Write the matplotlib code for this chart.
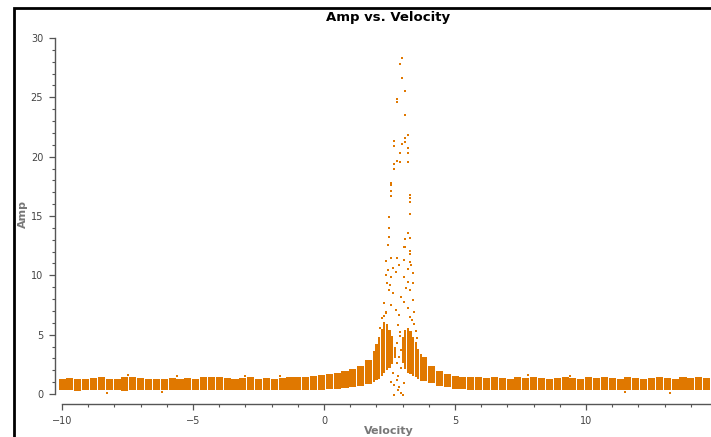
import matplotlib
matplotlib.use("Agg")
import matplotlib.pyplot as plt
from matplotlib.patches import Rectangle
from matplotlib.ticker import MultipleLocator

# ---- data ----
# channel-block velocities (km/s), outside the line core
velocity = [-10.0, -9.7, -9.4, -9.1, -8.8, -8.5, -8.2, -7.9, -7.6, -7.3,
            -7.0, -6.7, -6.4, -6.1, -5.8, -5.5, -5.2, -4.9, -4.6, -4.3,
            -4.0, -3.7, -3.4, -3.1, -2.8, -2.5, -2.2, -1.9, -1.6, -1.3,
            -1.0, -0.7, -0.4, -0.1, 0.2, 0.5, 0.8, 1.1, 1.4, 1.7,
            3.8, 4.1, 4.4, 4.7,
            5.0, 5.3, 5.6, 5.9, 6.2, 6.5, 6.8, 7.1, 7.4, 7.7,
            8.0, 8.3, 8.6, 8.9, 9.2, 9.5, 9.8, 10.1, 10.4, 10.7,
            11.0, 11.3, 11.6, 11.9, 12.2, 12.5, 12.8, 13.1, 13.4, 13.7,
            14.0, 14.3, 14.6]
amp_high = [1.30, 1.35, 1.25, 1.30, 1.35, 1.40, 1.30, 1.25, 1.40, 1.45,
            1.35, 1.30, 1.30, 1.25, 1.35, 1.30, 1.35, 1.30, 1.40, 1.45,
            1.40, 1.35, 1.30, 1.35, 1.40, 1.30, 1.35, 1.30, 1.35, 1.40,
            1.45, 1.45, 1.50, 1.60, 1.65, 1.75, 1.90, 2.10, 2.40, 2.90,
            3.10, 2.40, 1.90, 1.65,
            1.55, 1.45, 1.40, 1.40, 1.35, 1.40, 1.35, 1.30, 1.40, 1.35,
            1.45, 1.35, 1.30, 1.35, 1.40, 1.35, 1.30, 1.40, 1.35, 1.40,
            1.35, 1.30, 1.40, 1.35, 1.30, 1.35, 1.40, 1.35, 1.30, 1.40,
            1.35, 1.40, 1.35]
amp_low = [0.35, 0.30, 0.25, 0.35, 0.30, 0.30, 0.35, 0.30, 0.25, 0.30,
           0.30, 0.35, 0.30, 0.30, 0.30, 0.35, 0.30, 0.30, 0.30, 0.35,
           0.30, 0.35, 0.30, 0.30, 0.30, 0.35, 0.30, 0.35, 0.30, 0.35,
           0.30, 0.35, 0.35, 0.35, 0.40, 0.45, 0.50, 0.55, 0.65, 0.85,
           1.10, 0.90, 0.70, 0.55,
           0.45, 0.40, 0.35, 0.35, 0.30, 0.30, 0.35, 0.30, 0.30, 0.35,
           0.30, 0.30, 0.35, 0.30, 0.30, 0.35, 0.30, 0.30, 0.35, 0.30,
           0.30, 0.35, 0.30, 0.30, 0.35, 0.30, 0.30, 0.35, 0.30, 0.30,
           0.35, 0.30, 0.30]

# line core, finer channels
core_vel = [1.9, 2.0, 2.1, 2.2, 2.3, 2.4, 2.5, 2.6, 2.7,
            3.0, 3.1, 3.2, 3.3, 3.4, 3.5, 3.6, 3.7]
core_high = [3.6, 4.2, 4.8, 5.5, 6.1, 5.9, 5.4, 4.9, 4.0,
             4.8, 5.4, 5.6, 5.3, 4.8, 4.4, 3.8, 3.4]
core_low = [1.0, 1.15, 1.3, 1.5, 1.8, 2.0, 2.2, 2.5, 3.0,
            2.6, 2.1, 1.8, 1.7, 1.5, 1.4, 1.3, 1.2]

# isolated points (line peak and a few outliers)
point_vel = [2.98, 2.89, 2.98, 3.10, 2.79, 2.79, 3.10, 3.21, 3.10, 2.66,
             3.10, 2.98, 2.66, 3.21, 2.89, 3.21, 2.79, 2.89, 3.21, 2.66,
             2.66, 2.57, 2.57, 2.57, 2.57, 3.29, 3.29, 3.29, 3.29, 2.47,
             2.47, 3.21, 3.21, 2.47, 3.29, 3.10,
             2.45, 3.04, 3.10, 3.29, 3.29, 2.56, 2.79, 2.37, 3.07, 3.29,
             3.32, 2.87, 2.62, 2.43, 2.75, 3.19, 2.37, 2.56, 3.07, 3.39,
             2.40, 2.53, 3.19, 3.39, 2.49, 2.62, 3.13, 3.29, 2.94, 3.07,
             2.30, 2.56, 3.39, 2.75, 3.19, 2.37, 3.45, 2.87, 3.29,
             2.62, 2.79, 2.68, 2.87, 2.81, 2.94, 2.68, 3.00, 2.56, 3.07,
             2.84, 2.90, 2.80, 2.92, 2.86, 2.78, 2.95, 2.83, 2.88,
             2.20, 2.28, 2.35, 3.35, 3.42, 3.50, 2.15, 3.55,
             -7.5, -5.6, -3.0, -8.3, -1.7, 7.8, 11.5, 13.2, -6.2, 9.4]
point_amp = [28.3, 27.85, 26.65, 25.5, 24.9, 24.6, 23.5, 21.8, 21.6, 21.35,
             21.25, 21.1, 20.9, 20.75, 20.3, 20.3, 19.65, 19.55, 19.55, 19.35,
             19.0, 17.75, 17.65, 17.1, 16.65, 16.8, 16.5, 16.2, 15.15, 14.9,
             13.95, 13.6, 13.55, 13.25, 13.15, 13.1,
             12.55, 12.4, 12.35, 12.07, 11.8, 11.43, 11.43, 11.23, 11.29, 11.15,
             10.87, 10.87, 10.59, 10.45, 10.3, 10.5, 10.03, 9.83, 9.83, 10.17,
             9.33, 9.18, 9.46, 9.33, 8.76, 8.48, 8.9, 8.76, 8.2, 7.78,
             7.64, 7.5, 7.92, 7.08, 7.22, 6.93, 6.93, 6.66, 6.51,
             1.74, 1.18, 0.76, 0.62, 0.34, 0.06, -0.08, -0.08, 1.04, 0.9,
             5.8, 4.9, 4.3, 3.7, 3.1, 2.6, 2.2, 1.5, 5.2,
             6.4, 6.6, 6.8, 6.2, 5.9, 5.3, 5.6, 4.7,
             1.62, 1.55, 1.52, 0.12, 1.55, 1.58, 0.15, 0.12, 0.15, 1.55]

ORANGE = "#e07800"

fig = plt.figure(figsize=(7.11, 4.37), dpi=100)
W, H = 711, 437
ax = fig.add_axes([55 / W, 1 - 394 / H, 1 - 55 / W, (394 - 38) / H])

bar_h = [h - l for h, l in zip(amp_high, amp_low)]
ax.bar(velocity, bar_h, bottom=amp_low, width=0.27, color=ORANGE,
       linewidth=0, clip_on=False, zorder=2)
core_h = [h - l for h, l in zip(core_high, core_low)]
ax.bar(core_vel, core_h, bottom=core_low, width=0.085, color=ORANGE,
       linewidth=0, clip_on=False, zorder=2)
ax.scatter(point_vel, point_amp, s=3, marker="s", color=ORANGE,
           linewidths=0, clip_on=False, zorder=3)

ax.set_xlim(-10.27, 14.77)
ax.set_ylim(0, 30)

for side in ("top", "right"):
    ax.spines[side].set_visible(False)
ax.spines["left"].set_bounds(0, 30)
ax.spines["bottom"].set_bounds(-10, 14.77)
ax.spines["bottom"].set_position(("outward", 7))
for side in ("left", "bottom"):
    ax.spines[side].set_color("#555555")
    ax.spines[side].set_linewidth(1.0)

ax.xaxis.set_major_locator(MultipleLocator(5))
ax.xaxis.set_minor_locator(MultipleLocator(1))
ax.yaxis.set_major_locator(MultipleLocator(5))
ax.yaxis.set_minor_locator(MultipleLocator(1))
ax.tick_params(axis="both", which="major", direction="out", length=4.5,
               width=0.9, color="#555555", labelsize=7, labelcolor="#444444",
               pad=4)
ax.tick_params(axis="both", which="minor", direction="out", length=2.5,
               width=0.8, color="#555555")
ax.patch.set_visible(False)

fig.text(388 / W, 1 - 18 / H, "Amp vs. Velocity", ha="center", va="center",
         fontsize=9.5, fontweight="bold", color="black")
fig.text(389 / W, 1 - 431 / H, "Velocity", ha="center", va="center",
         fontsize=8, fontweight="bold", color="#777777")
fig.text(23 / W, 1 - 214 / H, "Amp", ha="center", va="center", rotation=90,
         fontsize=8, fontweight="bold", color="#777777")

fig.add_artist(Rectangle((14 / W, -0.2), 2.0, 1 - 8 / H + 0.2,
                         transform=fig.transFigure, fill=False,
                         edgecolor="black", linewidth=2.0))

fig.savefig("out.png", dpi=100)
